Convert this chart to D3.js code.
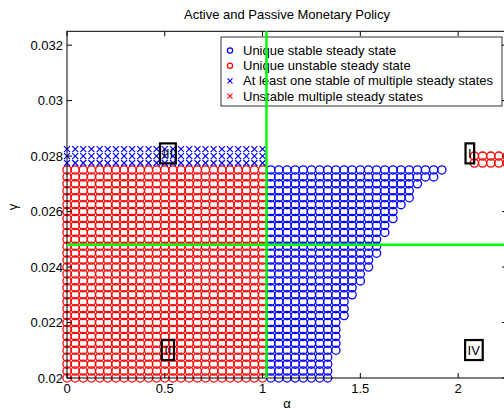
<!DOCTYPE html>
<html>
<head>
<meta charset="utf-8">
<script src="https://cdn.jsdelivr.net/npm/d3@7"></script>
<style>
  body { margin: 0; background: #fff; }
  text { font-family: "Liberation Sans", Arial, sans-serif; }
</style>
</head>
<body>
<script>
// parameter sweep grid
var alphaGrid = [0, 0.042, 0.083, 0.125, 0.167, 0.208, 0.25, 0.292, 0.333, 0.375, 0.417, 0.458,
  0.5, 0.542, 0.583, 0.625, 0.667, 0.708, 0.75, 0.792, 0.833, 0.875, 0.917, 0.958, 1.0,
  1.042, 1.083, 1.125, 1.167, 1.208, 1.25, 1.292, 1.333, 1.375, 1.417, 1.458, 1.5, 1.542,
  1.583, 1.625, 1.667, 1.708, 1.75, 1.792, 1.833, 1.875, 1.917, 1.958, 2.0, 2.042, 2.083,
  2.125, 2.167, 2.208, 2.25];
var gammaRows = [0.02, 0.02025, 0.0205, 0.02075, 0.021, 0.02125, 0.0215, 0.02175, 0.022,
  0.02225, 0.0225, 0.02275, 0.023, 0.02325, 0.0235, 0.02375, 0.024, 0.02425, 0.0245,
  0.02475, 0.025, 0.02525, 0.0255, 0.02575, 0.026, 0.02625, 0.0265, 0.02675, 0.027,
  0.02725, 0.0275];
// right edge of the unique stable region, one per gamma row
var stableEdge = [1.333, 1.333, 1.333, 1.333, 1.375, 1.375, 1.375, 1.375, 1.375, 1.417,
  1.417, 1.417, 1.458, 1.458, 1.5, 1.5, 1.542, 1.542, 1.583, 1.583, 1.583, 1.625, 1.625,
  1.667, 1.667, 1.708, 1.75, 1.75, 1.792, 1.875, 1.917];
var passiveMax = 1.0;      // unique unstable: alpha <= 1
var activeMin = 1.042;     // unique stable starts here
var multiGamma = [0.02775, 0.028, 0.02825];   // blue x rows
var unstableMultiGamma = [0.02775, 0.028];    // red circles top right
var unstableMultiMin = 2.083;

var alphaLine = 1.02, gammaLine = 0.0248;
var xTicks = [0, 0.5, 1, 1.5, 2];
var yTicks = [0.02, 0.022, 0.024, 0.026, 0.028, 0.03, 0.032];
var regionLabels = [
  {t: "III", a: 0.516, g: 0.0281},
  {t: "II", a: 0.516, g: 0.02101},
  {t: "IV", a: 2.08, g: 0.02101},
  {t: "I", a: 2.06, g: 0.0281}
];
var legendItems = [
  {m: "o", c: "#0000ff", t: "Unique stable steady state"},
  {m: "o", c: "#ff0000", t: "Unique unstable steady state"},
  {m: "x", c: "#0000ff", t: "At least one stable of multiple steady states"},
  {m: "x", c: "#ff0000", t: "Unstable multiple steady states"}
];

var width = 504, height = 410;
var plotL = 67, plotR = 507, plotT = 31.3, plotB = 378;

var x = d3.scaleLinear().domain([0, 2.25]).range([plotL, plotR]);
var y = d3.scaleLinear().domain([0.02, 0.0325]).range([plotB, plotT]);

var svg = d3.select("body").append("svg")
    .attr("width", width)
    .attr("height", height);

// build marker lists
var circles = [], crosses = [];
gammaRows.forEach(function(g, i) {
  alphaGrid.forEach(function(a) {
    if (a <= passiveMax) circles.push({a: a, g: g, c: "#ff0000"});
    else if (a >= activeMin && a <= stableEdge[i] + 1e-6) circles.push({a: a, g: g, c: "#0000ff"});
  });
});
multiGamma.forEach(function(g) {
  alphaGrid.forEach(function(a) {
    if (a <= passiveMax) crosses.push({a: a, g: g, c: "#0000ff"});
  });
});
unstableMultiGamma.forEach(function(g) {
  alphaGrid.forEach(function(a) {
    if (a >= unstableMultiMin) circles.push({a: a, g: g, c: "#ff0000"});
  });
});

var plot = svg.append("g");

plot.selectAll("circle.pt")
    .data(circles)
    .enter().append("circle")
    .attr("class", "pt")
    .attr("cx", function(d) { return x(d.a); })
    .attr("cy", function(d) { return y(d.g); })
    .attr("r", 4.1)
    .attr("fill", "none")
    .attr("stroke", function(d) { return d.c; })
    .attr("stroke-width", 1.3);

plot.selectAll("path.cross")
    .data(crosses)
    .enter().append("path")
    .attr("class", "cross")
    .attr("d", function(d) {
      var cx = x(d.a), cy = y(d.g), s = 3;
      return "M" + (cx - s) + "," + (cy - s) + "L" + (cx + s) + "," + (cy + s) +
             "M" + (cx - s) + "," + (cy + s) + "L" + (cx + s) + "," + (cy - s);
    })
    .attr("stroke", function(d) { return d.c; })
    .attr("stroke-width", 1.2);

// axes box with inward ticks
var tl = 5;
var axes = svg.append("g");
axes.append("rect")
    .attr("x", plotL).attr("y", plotT)
    .attr("width", plotR - plotL).attr("height", plotB - plotT)
    .attr("fill", "none").attr("stroke", "#000").attr("stroke-width", 1);

xTicks.forEach(function(t) {
  axes.append("line").attr("x1", x(t)).attr("x2", x(t)).attr("y1", plotB).attr("y2", plotB - tl).attr("stroke", "#000");
  axes.append("line").attr("x1", x(t)).attr("x2", x(t)).attr("y1", plotT).attr("y2", plotT + tl).attr("stroke", "#000");
  axes.append("text").attr("x", x(t)).attr("y", plotB + 14.5)
      .attr("text-anchor", "middle").attr("font-size", 13).text(d3.format("~g")(t));
});
yTicks.forEach(function(t) {
  axes.append("line").attr("x1", plotL).attr("x2", plotL + tl).attr("y1", y(t)).attr("y2", y(t)).attr("stroke", "#000");
  axes.append("line").attr("x1", plotR).attr("x2", plotR - tl).attr("y1", y(t)).attr("y2", y(t)).attr("stroke", "#000");
  axes.append("text").attr("x", plotL - 4).attr("y", y(t)).attr("dy", "0.35em")
      .attr("text-anchor", "end").attr("font-size", 13).text(d3.format("~g")(t));
});

svg.append("text").attr("x", (plotL + plotR) / 2).attr("y", 19)
    .attr("text-anchor", "middle").attr("font-size", 13)
    .text("Active and Passive Monetary Policy");
svg.append("text").attr("x", 287).attr("y", 408)
    .attr("text-anchor", "middle").attr("font-size", 13).text("α");
svg.append("text").attr("transform", "translate(17,207) rotate(-90)")
    .attr("text-anchor", "middle").attr("font-size", 13).text("γ");

// region labels in boxes
regionLabels.forEach(function(d) {
  var g = svg.append("g");
  var txt = g.append("text").attr("x", x(d.a)).attr("y", y(d.g)).attr("dy", "0.35em")
      .attr("text-anchor", "middle").attr("font-size", 13).text(d.t);
  var bb = txt.node().getBBox();
  g.insert("rect", "text")
      .attr("x", bb.x - 2.5).attr("y", bb.y - 2.5)
      .attr("width", bb.width + 5).attr("height", bb.height + 5)
      .attr("fill", "none").attr("stroke", "#000").attr("stroke-width", 2.2);
});

// legend
var leg = svg.append("g");
leg.append("rect").attr("x", 221).attr("y", 37).attr("width", 281).attr("height", 69)
    .attr("fill", "#fff").attr("stroke", "#000").attr("stroke-width", 0.8);
legendItems.forEach(function(d, i) {
  var ly = 50.5 + i * 15.2;
  if (d.m === "o") {
    leg.append("circle").attr("cx", 230).attr("cy", ly).attr("r", 2.6)
        .attr("fill", "none").attr("stroke", d.c).attr("stroke-width", 1.2);
  } else {
    leg.append("path").attr("d", "M227.5," + (ly - 2.5) + "L232.5," + (ly + 2.5) +
        "M227.5," + (ly + 2.5) + "L232.5," + (ly - 2.5))
        .attr("stroke", d.c).attr("stroke-width", 1.2);
  }
  leg.append("text").attr("x", 243).attr("y", ly).attr("dy", "0.35em")
      .attr("font-size", 13).text(d.t);
});

// boundary lines
svg.append("line").attr("x1", x(alphaLine)).attr("x2", x(alphaLine))
    .attr("y1", plotT).attr("y2", plotB)
    .attr("stroke", "#00ff00").attr("stroke-width", 2.5);
svg.append("line").attr("x1", plotL).attr("x2", plotR)
    .attr("y1", y(gammaLine)).attr("y2", y(gammaLine))
    .attr("stroke", "#00ff00").attr("stroke-width", 2.5);
</script>
</body>
</html>
